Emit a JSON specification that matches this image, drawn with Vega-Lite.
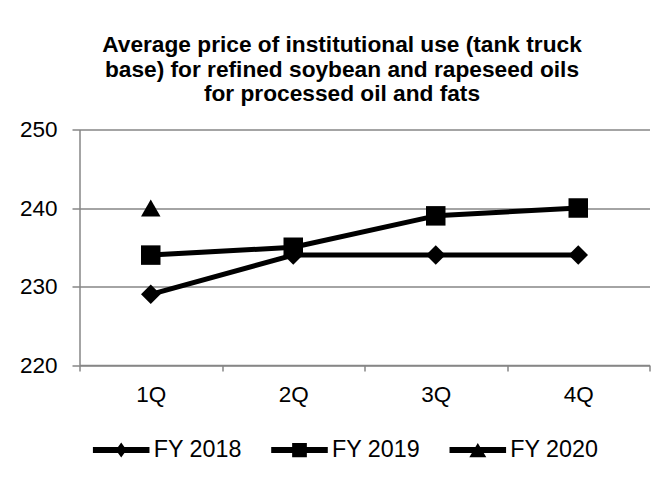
{
  "$schema": "https://vega.github.io/schema/vega-lite/v6.json",
  "autosize": "none",
  "width": 570,
  "height": 235.5,
  "padding": {"left": 79.5, "top": 129.5, "right": 20.5, "bottom": 114},
  "background": "white",
  "title": {
    "text": ["Average price of institutional use (tank truck", "base) for refined soybean and rapeseed oils", "for processed oil and fats"],
    "font": "Liberation Sans",
    "fontSize": 22.7,
    "fontWeight": "bold",
    "color": "black",
    "lineHeight": 24.2,
    "anchor": "middle",
    "frame": "group",
    "dx": -22.5,
    "dy": -9,
    "offset": 4
  },
  "data": {
    "values": [
      {"quarter": "1Q", "series": "FY 2018", "price": 229},
      {"quarter": "2Q", "series": "FY 2018", "price": 234},
      {"quarter": "3Q", "series": "FY 2018", "price": 234},
      {"quarter": "4Q", "series": "FY 2018", "price": 234},
      {"quarter": "1Q", "series": "FY 2019", "price": 234},
      {"quarter": "2Q", "series": "FY 2019", "price": 235},
      {"quarter": "3Q", "series": "FY 2019", "price": 239},
      {"quarter": "4Q", "series": "FY 2019", "price": 240},
      {"quarter": "1Q", "series": "FY 2020", "price": 240}
    ]
  },
  "encoding": {
    "x": {
      "field": "quarter", "type": "ordinal", "bandPosition": 0.5,
      "scale": {"type": "band", "paddingInner": 0, "paddingOuter": 0},
      "axis": {"title": null, "labelAngle": 0, "tickBand": "extent", "grid": false, "tickSize": 6, "labelPadding": 12, "labelFontSize": 22.5}
    },
    "y": {
      "field": "price", "type": "quantitative",
      "scale": {"domain": [220, 250], "nice": false, "zero": false},
      "axis": {"title": null, "values": [220, 230, 240, 250], "tickSize": 7.5, "labelPadding": 15, "labelFontSize": 22.5, "grid": true}
    }
  },
  "layer": [
    {
      "mark": {"type": "line", "strokeWidth": 5, "strokeJoin": "round"},
      "encoding": {
        "color": {
          "field": "series", "type": "nominal",
          "scale": {"domain": ["FY 2018", "FY 2019", "FY 2020"], "range": ["black", "black", "black"]},
          "legend": {
            "title": null,
            "orient": "none",
            "direction": "horizontal",
            "legendX": 13.2,
            "legendY": 292,
            "padding": 0,
            "symbolSize": 3200,
            "symbolStrokeWidth": 0,
            "labelFontSize": 23.3,
            "labelOffset": 4,
            "columnPadding": 28.3,
            "labelColor": "black",
            "labelFont": "Liberation Sans",
            "encode": {
              "symbols": {
                "update": {
                  "shape": {"signal": "datum.value === 'FY 2018' ? 'M-1,-0.106H1V0.106H-1Z M0,-0.265L0.19,0L0,0.265L-0.19,0Z' : datum.value === 'FY 2019' ? 'M-1,-0.106H1V0.106H-1Z M-0.26,-0.25H0.26V0.25H-0.26Z' : 'M-1,-0.106H1V0.106H-1Z M0,-0.25L0.3,0.25H-0.3Z'"},
                  "fill": {"value": "black"},
                  "strokeWidth": {"value": 0},
                  "size": {"value": 3200},
                  "opacity": {"value": 1}
                }
              }
            }
          }
        }
      }
    },
    {
      "mark": {"type": "point", "filled": true, "color": "black", "opacity": 1, "size": 380},
      "encoding": {
        "shape": {
          "field": "series", "type": "nominal",
          "scale": {"range": ["diamond", "square", "triangle-up"]},
          "legend": null
        }
      }
    }
  ],
  "config": {
    "font": "Liberation Sans",
    "view": {"stroke": null},
    "axis": {
      "labelFont": "Liberation Sans",
      "labelColor": "black",
      "domainColor": "#868686",
      "domainWidth": 1.5,
      "tickColor": "#868686",
      "tickWidth": 1.5,
      "gridColor": "#868686",
      "gridWidth": 1.5,
      "gridOpacity": 1
    }
  }
}
